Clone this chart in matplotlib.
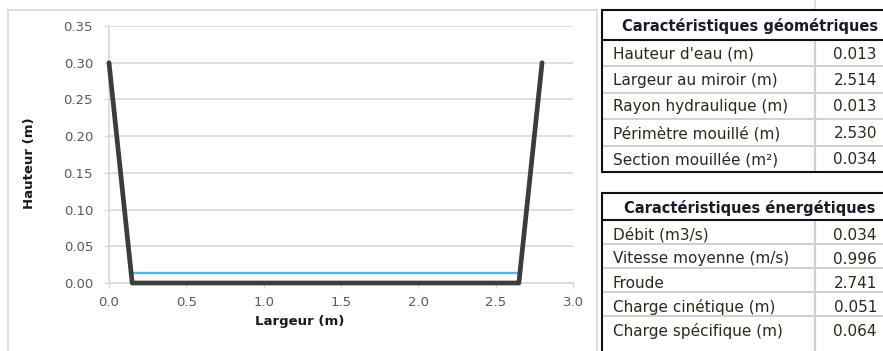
import matplotlib
matplotlib.use('Agg')
import matplotlib.pyplot as plt
from matplotlib.lines import Line2D
from matplotlib.patches import Rectangle
from matplotlib.ticker import FormatStrFormatter

# ---------------- data ----------------
channel_x = [0.0, 0.15, 2.65, 2.80]
channel_y = [0.30, 0.0, 0.0, 0.30]
water_x = [0.1565, 2.6435]
water_y = [0.013, 0.013]

x_ticks = [0.0, 0.5, 1.0, 1.5, 2.0, 2.5, 3.0]
y_ticks = [0.00, 0.05, 0.10, 0.15, 0.20, 0.25, 0.30, 0.35]
x_label = "Largeur (m)"
y_label = "Hauteur (m)"

geo_title = "Caractéristiques géométriques"
geo_labels = ["Hauteur d'eau (m)", "Largeur au miroir (m)", "Rayon hydraulique (m)",
              "Périmètre mouillé (m)", "Section mouillée (m²)"]
geo_values = ["0.013", "2.514", "0.013", "2.530", "0.034"]

ene_title = "Caractéristiques énergétiques"
ene_labels = ["Débit (m3/s)", "Vitesse moyenne (m/s)", "Froude",
              "Charge cinétique (m)", "Charge spécifique (m)"]
ene_values = ["0.034", "0.996", "2.741", "0.051", "0.064"]

# ---------------- figure ----------------
plt.rcParams['font.family'] = ['DejaVu Sans']
W, H = 883, 351
fig = plt.figure(figsize=(W / 100, H / 100), dpi=100)


def fx(x):
    return x / W


def fy(y):
    return 1 - y / H


# chart outer border
fig.add_artist(Rectangle((fx(8), fy(380)), fx(597) - fx(8), fy(10) - fy(380),
                         transform=fig.transFigure, fill=False,
                         edgecolor='#d9d9d9', lw=1.2))

ax = fig.add_axes([fx(109), fy(283), fx(573) - fx(109), fy(26) - fy(283)])
ax.plot(water_x, water_y, color='#4BB8E8', lw=1.7, zorder=3, solid_capstyle='butt')
ax.plot(channel_x, channel_y, color='#3c3c3c', lw=3.4, zorder=4,
        solid_joinstyle='round', solid_capstyle='round', clip_on=False)
ax.set_xlim(0, 3.0)
ax.set_ylim(0, 0.35)
ax.set_xticks(x_ticks)
ax.set_yticks(y_ticks)
ax.xaxis.set_major_formatter(FormatStrFormatter('%.1f'))
ax.yaxis.set_major_formatter(FormatStrFormatter('%.2f'))
ax.grid(axis='y', color='#d9d9d9', lw=1.2)
ax.set_axisbelow(True)
for s in ['top', 'right']:
    ax.spines[s].set_visible(False)
for s in ['left', 'bottom']:
    ax.spines[s].set_color('#d9d9d9')
    ax.spines[s].set_linewidth(1.2)
ax.tick_params(axis='both', direction='out', length=3.5, width=1.0, color='#d9d9d9',
               labelcolor='#595959', labelsize=9.5)
ax.tick_params(axis='y', pad=8)
ax.tick_params(axis='x', pad=6)

fig.text(fx(300), fy(322), x_label, ha='center', va='center', fontsize=9.5,
         fontweight='bold', color='#1a1a1a')
fig.text(fx(30), fy(163), y_label, ha='center', va='center', fontsize=9.5,
         fontweight='bold', color='#1a1a1a', rotation=90)

# ---------------- tables ----------------
LEFT, RIGHT, COL = 602, 900, 815


def hline(x0, x1, y, color, lw):
    fig.add_artist(Line2D([fx(x0), fx(x1)], [fy(y), fy(y)], transform=fig.transFigure,
                          color=color, lw=lw, solid_capstyle='butt'))


def vline(x, y0, y1, color, lw):
    fig.add_artist(Line2D([fx(x), fx(x)], [fy(y0), fy(y1)], transform=fig.transFigure,
                          color=color, lw=lw, solid_capstyle='butt'))


def draw_table(top, header_bottom, row_h, title, labels, values, bottom_border, dy):
    n = len(labels)
    bottom = header_bottom + n * row_h
    # inner grid
    for i in range(1, n):
        hline(LEFT, RIGHT, header_bottom + i * row_h, '#d0d0d0', 1.4)
    vline(COL, header_bottom, bottom if bottom_border else 400, '#d0d0d0', 1.6)
    # borders
    hline(LEFT - 1, RIGHT, top, '#111111', 1.5)
    hline(LEFT, RIGHT, header_bottom, '#111111', 1.5)
    if bottom_border:
        hline(LEFT - 1, RIGHT, bottom, '#111111', 1.5)
    vline(LEFT, top, bottom if bottom_border else 400, '#111111', 1.5)
    # text
    fig.text(fx(750), fy((top + header_bottom) / 2 + 1), title, ha='center', va='center',
             fontsize=10.5, fontweight='bold', color='#1a1a2a')
    for i, (lab, val) in enumerate(zip(labels, values)):
        yc = header_bottom + (i + 0.5) * row_h + dy
        fig.text(fx(613), fy(yc), lab, ha='left', va='center', fontsize=11,
                 color='#2a2a1a')
        fig.text(fx(877), fy(yc), val, ha='right', va='center', fontsize=11,
                 color='#2a2a1a')


vline(COL, 0, 10, '#d9d9d9', 1.2)
draw_table(10, 40, 26.4, geo_title, geo_labels, geo_values, True, 1)
draw_table(193, 220, 24, ene_title, ene_labels, ene_values, False, 3)

fig.savefig('out.png', dpi=100)
